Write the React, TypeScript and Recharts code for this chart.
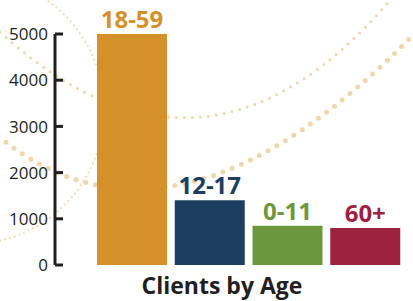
import { BarChart, Bar, XAxis, YAxis, LabelList, Cell } from 'recharts';

const ageGroups = ['18-59', '12-17', '0-11', '60+'];
const clients = [5000, 1400, 850, 800];
const yTicks = [0, 1000, 2000, 3000, 4000, 5000];
const chartTitle = 'Clients by Age';

const barColors = ['#D4912A', '#1C3F61', '#6B973D', '#9C2240'];
const dotColor = '#F0D6AC';
const ink = '#231F20';
const font = '"Open Sans", sans-serif';

const data = ageGroups.map((name, i) => ({ name, value: clients[i] }));

const YTick = (props: any) => {
  const { x, y, payload } = props;
  return (
    <g>
      <line x1={x + 8} x2={x + 16} y1={y} y2={y} stroke={ink} strokeWidth={3} />
      <text x={x + 1} y={y} dy="0.36em" textAnchor="end" fill={ink} fontSize={17} fontFamily={font}>
        {payload.value}
      </text>
    </g>
  );
};

const BarLabel = (props: any) => {
  const { x, y, width, index, value } = props;
  return (
    <text
      x={x + width / 2}
      y={y - 6}
      textAnchor="middle"
      fill={barColors[index]}
      fontSize={24}
      fontWeight={700}
      fontFamily={font}
    >
      {value}
    </text>
  );
};

// decorative dotted arcs behind the chart
const Backdrop = () => (
  <svg width={413} height={301} style={{ position: 'absolute', left: 0, top: 0 }}>
    <circle cx={-30} cy={110} r={134} fill="none" stroke={dotColor} strokeWidth={2} strokeDasharray="0 5" strokeLinecap="round" />
    <path d="M 0 32 Q 205 219 392 -2" fill="none" stroke={dotColor} strokeWidth={3} strokeDasharray="0 8" strokeLinecap="round" />
    <path d="M -2 136 Q 175 281 418 30" fill="none" stroke={dotColor} strokeWidth={5} strokeDasharray="0 10" strokeLinecap="round" />
  </svg>
);

export default function App() {
  return (
    <div style={{ position: 'absolute', left: 0, top: 0, width: 413, height: 301, background: '#fff', overflow: 'hidden' }}>
      <Backdrop />
      <div style={{ position: 'absolute', left: 0, top: 0 }}>
        <BarChart width={413} height={301} data={data} margin={{ top: 34, right: 3, bottom: 36, left: 0 }}>
          <XAxis
            dataKey="name"
            tick={false}
            tickLine={false}
            height={0}
            padding={{ left: 38, right: 6 }}
            axisLine={{ stroke: ink, strokeWidth: 3 }}
          />
          <YAxis
            width={55}
            domain={[0, 5000]}
            ticks={yTicks}
            interval={0}
            tickLine={false}
            tick={<YTick />}
            axisLine={{ stroke: ink, strokeWidth: 3 }}
          />
          <Bar dataKey="value" barSize={70} isAnimationActive={false}>
            {data.map((d, i) => (
              <Cell key={d.name} fill={barColors[i]} />
            ))}
            <LabelList dataKey="name" content={<BarLabel />} />
          </Bar>
        </BarChart>
      </div>
      <svg width={413} height={301} style={{ position: 'absolute', left: 0, top: 0, pointerEvents: 'none' }}>
        <text x={222} y={294} textAnchor="middle" fill={ink} fontSize={23} fontWeight={700} fontFamily={font}>
          {chartTitle}
        </text>
      </svg>
    </div>
  );
}
